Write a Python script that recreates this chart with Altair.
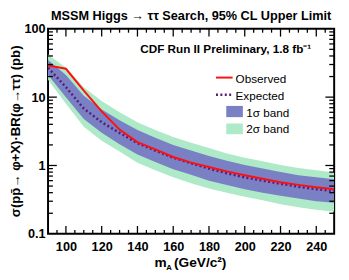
import altair as alt
import pandas as pd

# ---- data ----
mass = [90, 100, 110, 120, 130, 140, 150, 160, 170, 180, 190, 200, 210, 220, 230, 240, 250]
observed = [29, 26, 12.4, 6.2, 3.35, 2.2, 1.72, 1.33, 1.1, 0.95, 0.82, 0.72, 0.64, 0.57, 0.52, 0.48, 0.45]
expected = [27, 14, 6.8, 4.3, 3.0, 2.12, 1.65, 1.3, 1.08, 0.9, 0.77, 0.67, 0.6, 0.54, 0.49, 0.45, 0.42]
band1_hi = [35, 21, 10.5, 6.6, 4.6, 3.3, 2.55, 2.0, 1.65, 1.38, 1.17, 1.02, 0.9, 0.8, 0.72, 0.67, 0.63]
band1_lo = [21, 10, 4.8, 3.0, 2.05, 1.45, 1.12, 0.88, 0.73, 0.6, 0.52, 0.45, 0.4, 0.36, 0.33, 0.3, 0.285]
band2_hi = [42, 27, 14, 8.8, 6.0, 4.3, 3.3, 2.6, 2.15, 1.8, 1.5, 1.3, 1.15, 1.02, 0.92, 0.85, 0.79]
band2_lo = [18, 8, 3.7, 2.3, 1.6, 1.1, 0.85, 0.67, 0.55, 0.46, 0.4, 0.35, 0.31, 0.27, 0.245, 0.225, 0.21]

x_labels = [100, 120, 140, 160, 180, 200, 220, 240]
x_minor = [m for m in range(95, 250, 5) if m not in x_labels]
y_labels = [0.1, 1, 10, 100]
y_minor = [d * k for d in (0.1, 1, 10) for k in range(2, 10)]

title_text = "MSSM Higgs \u2192 \u03c4\u03c4 Search, 95% CL Upper Limit"
ytitle_text = "\u03c3(pp\u0304\u2192 \u03c6+X)\u00b7BR(\u03c6\u2192\u03c4\u03c4) (pb)"
label_text = "CDF Run II Preliminary, 1.8 fb\u207b\u00b9"
legend_labels = ["Observed", "Expected", "1\u03c3 band", "2\u03c3 band"]

# ---- colours / geometry ----
RED = "#ff1010"
PURPLE = "#5a1a78"
BLUE = "#7a80c4"
GREEN = "#aee9c8"
FONT = "Liberation Sans"
W, H = 293, 210

df = pd.DataFrame({
    "mass": mass, "obs": observed, "exp": expected,
    "s1lo": band1_lo, "s1hi": band1_hi, "s2lo": band2_lo, "s2hi": band2_hi,
})

xs = alt.Scale(domain=[90, 250], nice=False, zero=False)
ys = alt.Scale(type="log", domain=[0.1, 100], nice=False)

x_axis = alt.Axis(values=x_labels, ticks=False, domain=False, grid=False, title=None,
                  labelFont=FONT, labelFontWeight="bold", labelFontSize=13,
                  labelColor="black", labelPadding=7)
y_axis = alt.Axis(values=y_labels, ticks=False, domain=False, grid=False, title=None,
                  labelFont=FONT, labelFontWeight="bold", labelFontSize=13,
                  labelColor="black", labelPadding=3,
                  labelExpr="datum.value < 1 ? '0.1' : format(datum.value, 'd')")


def X(f):
    return alt.X(f, scale=xs, axis=x_axis)


def Y(f):
    return alt.Y(f, scale=ys, axis=y_axis)


base = alt.Chart(df)
band2 = base.mark_area(color=GREEN, opacity=1, clip=True).encode(
    x=X("mass:Q"), y=Y("s2lo:Q"), y2="s2hi:Q")
band1 = base.mark_area(color=BLUE, opacity=1, clip=True).encode(
    x=X("mass:Q"), y=Y("s1lo:Q"), y2="s1hi:Q")
exp_line = base.mark_line(color=PURPLE, strokeWidth=2.5, strokeDash=[2, 2.5], clip=True).encode(
    x=X("mass:Q"), y=Y("exp:Q"))
obs_line = base.mark_line(color=RED, strokeWidth=2, clip=True).encode(
    x=X("mass:Q"), y=Y("obs:Q"))


def xticks(vals, length):
    d = alt.Chart(pd.DataFrame({"mass": vals})).mark_rule(color="black", strokeWidth=1.3)
    bottom = d.encode(x=X("mass:Q"), y=alt.value(H), y2=alt.value(H - length))
    top = d.encode(x=X("mass:Q"), y=alt.value(0), y2=alt.value(length))
    return [bottom, top]


def yticks(vals, length):
    d = alt.Chart(pd.DataFrame({"obs": vals})).mark_rule(color="black", strokeWidth=1.3)
    left = d.encode(y=Y("obs:Q"), x=alt.value(0), x2=alt.value(length))
    right = d.encode(y=Y("obs:Q"), x=alt.value(W), x2=alt.value(W - length))
    return [left, right]


ticks = xticks(x_labels, 8) + xticks(x_minor, 4) + yticks([1, 10], 9) + yticks(y_minor, 5)

one = pd.DataFrame({"a": [0]})


def text(t, x, y, size, weight="bold", align="left", baseline="alphabetic", angle=0, font=FONT):
    kw = dict(text=t, fontSize=size, fontWeight=weight, align=align, baseline=baseline,
              font=font, color="black")
    if angle:
        kw["angle"] = angle
    return alt.Chart(one).mark_text(**kw).encode(x=alt.value(x), y=alt.value(y))


texts = [
    text(title_text, W / 2, -8.5, 13, align="center"),
    text(ytitle_text, -33, H / 2, 13.5, align="center", baseline="middle", angle=270),
    text("m", 109, 244, 14),
    text("A", 121, 247, 8),
    text("(GeV/c\u00b2)", 129, 244, 14),
    text(label_text, 182, 25, 12, align="center"),
    text(legend_labels[0], 192, 55.5, 12, weight="normal"),
    text(legend_labels[1], 192, 73, 12, weight="normal"),
    text(legend_labels[2], 203, 90, 12, weight="normal"),
    text(legend_labels[3], 203, 106.5, 12, weight="normal"),
]

legend_marks = [
    alt.Chart(one).mark_rule(color=RED, strokeWidth=2).encode(
        x=alt.value(172), x2=alt.value(189), y=alt.value(50)),
    alt.Chart(one).mark_rule(color=PURPLE, strokeWidth=2.5, strokeDash=[2, 2.5]).encode(
        x=alt.value(172), x2=alt.value(189), y=alt.value(67.5)),
    alt.Chart(one).mark_rect(color=BLUE).encode(
        x=alt.value(182.5), x2=alt.value(199.5), y=alt.value(79), y2=alt.value(90.5)),
    alt.Chart(one).mark_rect(color=GREEN).encode(
        x=alt.value(182.5), x2=alt.value(199.5), y=alt.value(97), y2=alt.value(108)),
]

chart = alt.layer(band2, band1, exp_line, obs_line, *ticks, *legend_marks, *texts).properties(
    width=W, height=H,
    padding={"left": 41, "top": 18, "right": 7, "bottom": 44},
    autosize=alt.AutoSizeParams(type="none"),
).configure_view(stroke="black", strokeWidth=2)

chart.save("out.html", embed_options={"renderer": "svg", "actions": False})
